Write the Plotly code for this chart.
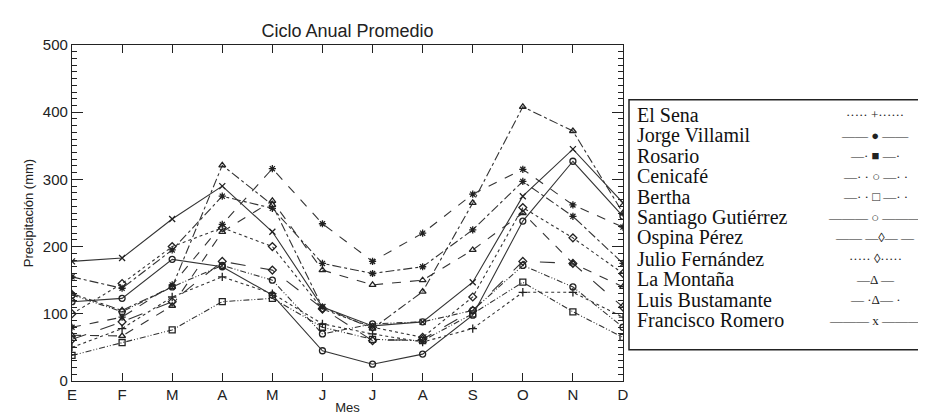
import plotly.graph_objects as go

months = ["E", "F", "M", "A", "M", "J", "J", "A", "S", "O", "N", "D"]
stations = ["El Sena", "Jorge Villamil", "Rosario", "Cenicafé", "Bertha",
            "Santiago Gutiérrez", "Ospina Pérez", "Julio Fernández",
            "La Montaña", "Luis Bustamante", "Francisco Romero"]

el_sena = [50, 78, 125, 155, 130, 85, 70, 58, 78, 132, 132, 95]
jorge_villamil = [80, 95, 143, 233, 316, 234, 178, 220, 278, 315, 262, 229]
rosario = [155, 138, 195, 275, 257, 175, 160, 170, 225, 297, 245, 175]
cenicafe = [128, 103, 140, 172, 150, 70, 85, 88, 105, 172, 140, 80]
bertha = [38, 57, 76, 118, 123, 80, 62, 60, 100, 147, 103, 65]
santiago_gutierrez = [118, 123, 181, 170, 128, 45, 25, 40, 98, 238, 327, 245]
ospina_perez = [62, 88, 118, 178, 165, 108, 60, 62, 105, 178, 175, 110]
julio_fernandez = [100, 145, 200, 228, 200, 107, 80, 65, 125, 258, 213, 160]
la_montana = [68, 67, 112, 222, 268, 165, 143, 150, 195, 250, 175, 140]
luis_bustamante = [130, 105, 140, 321, 262, 110, 78, 133, 265, 408, 372, 250]
francisco_romero = [178, 183, 241, 290, 222, 110, 82, 88, 147, 275, 345, 265]

legend_samples = ["····· +······", "—— ● ——", "—· ■ —·", "—· · ○ —· ·",
                  "—· · □ —· ·", "——— ○ ———", "—— —◊— —", "····· ◊·····",
                  "—Δ —", "— ·Δ— ·", "——— x ———"]

series = [el_sena, jorge_villamil, rosario, cenicafe, bertha, santiago_gutierrez,
          ospina_perez, julio_fernandez, la_montana, luis_bustamante, francisco_romero]

styles = [
    ("dot", "cross-thin-open"),
    ("dash", "asterisk-open"),
    ("dashdot", "asterisk-open"),
    ("6px,2px,1px,2px,1px,2px", "circle-open"),
    ("6px,2px,1px,2px,1px,2px", "square-open"),
    ("solid", "circle-open"),
    ("longdash", "diamond-open"),
    ("dot", "diamond-open"),
    ("dash", "triangle-up-open"),
    ("dashdot", "triangle-up-open"),
    ("solid", "x-thin-open"),
]

xs = list(range(len(months)))
fig = go.Figure()
for name, vals, (dash, sym) in zip(stations, series, styles):
    fig.add_trace(go.Scatter(
        x=xs, y=vals, mode="lines+markers", name=name,
        line=dict(color="#333333", width=1.1, dash=dash),
        marker=dict(symbol=sym, size=6, color="#222222",
                    line=dict(color="#222222", width=1.3)),
        showlegend=False))

W, H = 926, 416
L, R, T, B = 64, 615, 37, 380
pw, ph = R - L, B - T

def px(x):
    return (x - L) / pw

def py(y):
    return (B - y) / ph

fig.update_layout(
    width=W, height=H,
    margin=dict(l=L, r=W - R, t=T, b=H - B),
    paper_bgcolor="white", plot_bgcolor="white",
    font=dict(family="Liberation Sans, Arial", color="#222222"),
    title=dict(text="Ciclo Anual Promedio", x=339.5 / W, xref="container", xanchor="center",
               y=1 - 23 / H, yanchor="middle", font=dict(size=18, color="#222222")),
)
fig.update_xaxes(
    range=[0, 11], tickvals=xs, ticktext=months, showgrid=False, zeroline=False,
    showline=True, linecolor="#222222", linewidth=1.2, mirror="allticks",
    ticks="inside", ticklen=8, tickcolor="#222222",
    tickfont=dict(size=15, color="#222222"),
    title=dict(text="Mes", font=dict(size=13, color="#222222"), standoff=0),
)
fig.update_yaxes(
    range=[0, 500], dtick=100, showgrid=False, zeroline=False,
    showline=True, linecolor="#222222", linewidth=1.2, mirror="allticks",
    ticks="inside", ticklen=11, tickcolor="#222222",
    minor=dict(ticks="inside", ticklen=5, dtick=10, tickcolor="#222222", showgrid=False),
    tickfont=dict(size=15, color="#222222"),
    title=dict(text="Precipitación (mm)", font=dict(size=13, color="#222222"), standoff=6),
)

# legend box
fig.add_shape(type="rect", xref="paper", yref="paper",
              x0=px(621), x1=px(924), y0=py(348), y1=py(93),
              line=dict(color="#222222", width=1.5), fillcolor="rgba(0,0,0,0)")
for i, (name, samp) in enumerate(zip(stations, legend_samples)):
    yy = 108 + 21 * i
    fig.add_annotation(xref="paper", yref="paper", x=px(627), y=py(yy),
                       xanchor="left", yanchor="middle", showarrow=False,
                       text=name, font=dict(family="Liberation Serif", size=20, color="#111111"))
    fig.add_annotation(xref="paper", yref="paper", x=px(867), y=py(yy),
                       xanchor="center", yanchor="middle", showarrow=False,
                       text=samp, font=dict(family="Liberation Serif", size=13, color="#222222"))

fig.write_html("out.html")
